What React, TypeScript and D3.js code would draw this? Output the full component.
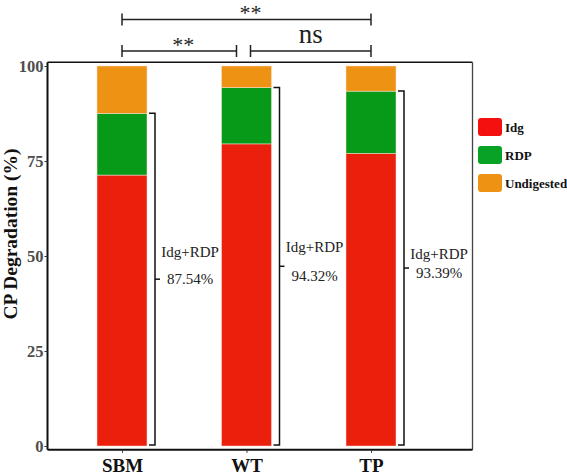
import React, { useEffect, useRef } from 'react';
import * as d3 from 'd3';

const categories = ['SBM', 'WT', 'TP'];
const idg = [71.3, 79.5, 77.0];
const rdp = [16.24, 14.82, 16.39];
const undigested = [12.46, 5.68, 6.61];
const totals = ['87.54%', '94.32%', '93.39%'];
const seriesNames = ['Idg', 'RDP', 'Undigested'];
const seriesColors = ['#ea200c', '#079a18', '#ee9213'];
const legendColors = ['#f51010', '#07a226', '#ee9213'];
const yTicks = [0, 25, 50, 75, 100];
const comparisons = [
  { from: 'SBM', to: 'TP', label: '**', level: 0 },
  { from: 'SBM', to: 'WT', label: '**', level: 1 },
  { from: 'WT', to: 'TP', label: 'ns', level: 1 },
];

const W = 567;
const H = 475;
const serif = 'Liberation Serif, Times New Roman, serif';

const App = () => {
  const svgRef = useRef<SVGSVGElement>(null);

  useEffect(() => {
    const svg = d3.select(svgRef.current);
    svg.selectAll('*').remove();

    const x = d3.scalePoint<string>().domain(categories).range([122, 371]);
    const y = d3.scaleLinear().domain([0, 100]).range([446, 66]);
    const barW = 50;
    const left = 47.5;
    const right = 472.5;
    const top = y(101);
    const bottom = y(-1);

    const table = categories.map((c, i) => ({
      cat: c,
      Idg: idg[i],
      RDP: rdp[i],
      Undigested: undigested[i],
    }));
    const stacked = d3.stack<any>().keys(seriesNames)(table);
    const color = d3.scaleOrdinal<string>().domain(seriesNames).range(seriesColors);

    // bars
    svg
      .append('g')
      .selectAll('g')
      .data(stacked)
      .join('g')
      .attr('fill', d => color(d.key))
      .selectAll('rect')
      .data(d => d)
      .join('rect')
      .attr('x', d => (x(d.data.cat) as number) - barW / 2)
      .attr('y', d => y(d[1]))
      .attr('width', barW)
      .attr('height', d => y(d[0]) - y(d[1]))
      .attr('stroke', '#fbe0dc')
      .attr('stroke-width', 0.5);

    // frame
    svg.append('line').attr('x1', left).attr('x2', right).attr('y1', top).attr('y2', top)
      .attr('stroke', '#111').attr('stroke-width', 1.6);
    svg.append('line').attr('x1', right).attr('x2', right).attr('y1', top).attr('y2', bottom)
      .attr('stroke', '#444').attr('stroke-width', 1.3);
    svg.append('line').attr('x1', left).attr('x2', left).attr('y1', top).attr('y2', bottom)
      .attr('stroke', '#111').attr('stroke-width', 2);
    svg.append('line').attr('x1', left).attr('x2', right).attr('y1', bottom).attr('y2', bottom)
      .attr('stroke', '#111').attr('stroke-width', 2);

    // y axis
    const yAxis = svg
      .append('g')
      .attr('transform', `translate(${left},0)`)
      .call(d3.axisLeft(y).tickValues(yTicks).tickSize(3).tickPadding(1).tickFormat(d3.format('d')));
    yAxis.select('.domain').remove();
    yAxis.selectAll('line').attr('stroke', '#333');
    yAxis
      .selectAll('text')
      .attr('font-family', serif)
      .attr('font-weight', 'bold')
      .attr('font-size', 16.5)
      .attr('fill', '#4d4d4d');

    // x axis
    const xAxis = svg
      .append('g')
      .attr('transform', `translate(0,${bottom})`)
      .call(d3.axisBottom(x).tickSize(3).tickPadding(6));
    xAxis.select('.domain').remove();
    xAxis.selectAll('line').attr('stroke', '#333');
    xAxis
      .selectAll('text')
      .attr('font-family', serif)
      .attr('font-weight', 'bold')
      .attr('font-size', 19)
      .attr('fill', '#111');

    // y title
    svg
      .append('text')
      .attr('transform', `translate(17,${234}) rotate(-90)`)
      .attr('text-anchor', 'middle')
      .attr('font-family', serif)
      .attr('font-weight', 'bold')
      .attr('font-size', 19.5)
      .attr('fill', '#111')
      .text('CP Degradation (%)');

    // Idg+RDP brackets
    const labelDy = [0, -5, 2];
    const valueDy = [0, -3, -6];
    categories.forEach((c, i) => {
      const bx = (x(c) as number) + barW / 2;
      const vx = bx + 8;
      const yt = y(idg[i] + rdp[i]);
      const yb = y(0) - 1;
      const ym = (yt + yb) / 2;
      const g = svg.append('g').attr('fill', 'none').attr('stroke', '#111').attr('stroke-width', 1.5);
      g.append('path').attr('d', `M${bx + 2},${yt}H${vx}V${yb}H${bx + 2}`);
      g.append('path').attr('d', `M${vx},${ym}H${vx + 5}`);
      const tx = vx + 35;
      svg.append('text')
        .attr('x', tx).attr('y', 257 + labelDy[i])
        .attr('text-anchor', 'middle')
        .attr('font-family', serif).attr('font-size', 15).attr('fill', '#222')
        .text('Idg+RDP');
      svg.append('text')
        .attr('x', tx).attr('y', 284 + valueDy[i])
        .attr('text-anchor', 'middle')
        .attr('font-family', serif).attr('font-size', 15).attr('fill', '#222')
        .text(totals[i]);
    });

    // significance brackets
    const levelY = [19.5, 51];
    comparisons.forEach(cmp => {
      let x1 = x(cmp.from) as number;
      let x2 = x(cmp.to) as number;
      if (cmp.level === 1 && cmp.to === 'WT') x2 -= 10;
      if (cmp.level === 1 && cmp.from === 'WT') x1 += 4;
      const ly = levelY[cmp.level];
      svg.append('path')
        .attr('d', `M${x1},${ly - 6}V${ly + 6}M${x1},${ly}H${x2}M${x2},${ly - 6}V${ly + 6}`)
        .attr('fill', 'none')
        .attr('stroke', '#222')
        .attr('stroke-width', 1.5);
      const isNs = cmp.label === 'ns';
      svg.append('text')
        .attr('x', (x1 + x2) / 2 + (isNs ? 0 : 4))
        .attr('y', isNs ? ly - 8 : ly + 0.5)
        .attr('text-anchor', 'middle')
        .attr('font-family', serif)
        .attr('font-size', isNs ? 27 : 22)
        .attr('fill', '#222')
        .text(cmp.label);
    });

    // legend
    const legend = svg.append('g').attr('transform', 'translate(478,118)');
    seriesNames.forEach((name, i) => {
      const row = legend.append('g').attr('transform', `translate(0,${i * 28})`);
      row.append('rect')
        .attr('width', 24).attr('height', 18).attr('rx', 3)
        .attr('fill', legendColors[i]);
      row.append('text')
        .attr('x', 27).attr('y', 13.5)
        .attr('font-family', serif).attr('font-weight', 'bold').attr('font-size', 13)
        .attr('fill', '#111')
        .text(name);
    });
  }, []);

  return (
    <svg
      ref={svgRef}
      width={W}
      height={H}
      style={{ position: 'absolute', left: 0, top: 0, background: '#fff' }}
    />
  );
};

export default App;
